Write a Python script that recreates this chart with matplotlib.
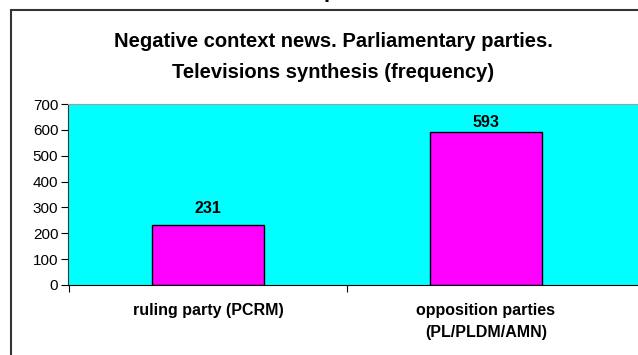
import matplotlib.pyplot as plt
from matplotlib.patches import Rectangle

categories = ["ruling party (PCRM)", "opposition parties\n(PL/PLDM/AMN)"]
values = [231, 593]
yticks = [0, 100, 200, 300, 400, 500, 600, 700]

plt.rcParams["font.family"] = ["Liberation Sans", "DejaVu Sans"]

fig = plt.figure(figsize=(6.38, 3.55), dpi=100)

# outer chart border (runs off the right and bottom edges)
fig.add_artist(Rectangle((11 / 638, -0.1), 1.2, 1 - 10 / 355 + 0.1,
                         transform=fig.transFigure, fill=False,
                         edgecolor="#333333", linewidth=1.5))

# descender of a cut-off letter from the page above
fig.text(0.517, 1.008, "p", ha="center", va="baseline", fontsize=16,
         fontweight="bold", color="black")

ax = fig.add_axes([68 / 638, 1 - 285 / 355, 1 - 68 / 638, (285 - 104) / 355])
ax.set_facecolor("#00FFFF")

x = list(range(len(values)))
ax.bar(x, values, width=0.403, color="#FF00FF", edgecolor="black", linewidth=1)

# label gap above each bar, in points
label_gap = [6.5, 1.5]
for xi, v, gap in zip(x, values, label_gap):
    ax.annotate(str(v), (xi, v), xytext=(0, gap), textcoords="offset points",
                ha="center", va="bottom", fontsize=11.5, fontweight="bold")

ax.set_ylim(0, 700)
ax.set_yticks(yticks)
ax.set_yticklabels([str(t) for t in yticks], fontsize=11)
ax.set_xlim(-0.5036, 1.547)
ax.set_xticks([-0.5, 0.5])
ax.set_xticklabels([])
ax.tick_params(axis="y", length=5, width=0.8, pad=2)
ax.tick_params(axis="x", length=5, width=0.8)

for xi, lab in zip(x, categories):
    ax.text(xi, -0.1, lab, transform=ax.get_xaxis_transform(),
            ha="center", va="top", fontsize=11.5, fontweight="bold",
            linespacing=1.55)

ax.spines["top"].set_color("#a0a0a0")
ax.spines["right"].set_visible(False)
ax.spines["left"].set_color("#333333")
ax.spines["bottom"].set_color("black")

fig.text(333 / 638, 1 - 57 / 355,
         "Negative context news. Parliamentary parties.\nTelevisions synthesis (frequency)",
         ha="center", va="center", fontsize=14.5, fontweight="bold",
         linespacing=1.75)

plt.savefig("out.png", dpi=100)
plt.close()
